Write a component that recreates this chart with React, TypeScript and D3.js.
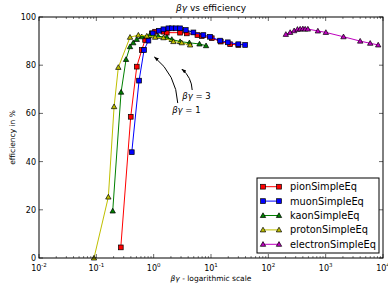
import React from "react";
import * as d3 from "d3";

// betagamma values and efficiency (%)
const pionX = [0.267, 0.398, 0.507, 0.62, 0.71, 0.93, 1.06, 1.48, 1.69, 2.89, 3.78, 5.8, 6.9, 10.3, 14.8, 21.5, 30];
const pionY = [4.4, 58.6, 79.4, 86.3, 90.5, 93.2, 93.9, 93.9, 93.5, 93.5, 93.2, 92.5, 92.1, 91.2, 89.8, 88.7, 88.4];

const muonX = [0.415, 0.556, 0.68, 0.81, 0.96, 1.24, 1.48, 1.81, 2.07, 2.43, 2.89, 3.63, 4.93, 7.36, 9.6, 14.4, 19.6, 30, 39.4];
const muonY = [43.9, 73.6, 86.3, 90.2, 93.2, 94.3, 94.9, 95.3, 95.3, 95.3, 95.3, 94.6, 93.6, 92.5, 91.8, 90.2, 89.5, 88.7, 88.4];

const kaonX = [0.193, 0.27, 0.33, 0.387, 0.44, 0.507, 0.62, 0.85, 1.2, 1.7, 2.07, 2.89, 4.2, 6.3, 8.2];
const kaonY = [19.5, 68.8, 82.4, 87.7, 89.3, 90.7, 91.8, 92.3, 92.0, 91.6, 90.7, 89.8, 89.3, 88.8, 88.1];

const protonX = [0.091, 0.162, 0.204, 0.242, 0.387, 0.541, 0.759, 1.06, 1.48, 2.21, 3.09, 4.32];
const protonY = [0, 25.3, 62.8, 79.1, 91.6, 92.5, 92.1, 91.6, 91.4, 89.8, 89.3, 88.4];

const electronX = [202, 240, 282, 322, 359, 400, 439, 489, 731, 1008, 2046, 4000, 5980, 8245];
const electronY = [92.8, 93.6, 94.3, 94.9, 95.0, 95.1, 95.0, 95.0, 94.2, 93.6, 91.8, 90.0, 89.1, 88.4];

const seriesNames = ["pionSimpleEq", "muonSimpleEq", "kaonSimpleEq", "protonSimpleEq", "electronSimpleEq"];
const seriesColors = ["#ff0000", "#0000ff", "#008000", "#bfbf00", "#bf00bf"];
const seriesMarkers = ["square", "square", "triangle", "triangle", "triangle"];

const yTicks = [0, 20, 40, 60, 80, 100];
const xTickExps = [-2, -1, 0, 1, 2, 3, 4];

// annotations: [label, arrow head x, head y, tail x, tail y, text x, text y]
const annotations: [string, number, number, number, number, number, number][] = [
  ["1", 1.03, 83.4, 2.63, 64.3, 2.1, 60],
  ["3", 3.1, 78.4, 4.7, 69.7, 3.15, 65.8],
];

const W = 388;
const H = 284;
const margin = { top: 17, right: 5, bottom: 26, left: 39 };
const font = "DejaVu Sans, sans-serif";

const Marker = ({ type, x, y, color }: { type: string; x: number; y: number; color: string }) => {
  if (type === "square") {
    return <rect x={x - 2.4} y={y - 2.4} width={4.8} height={4.8} fill={color} stroke="#000" strokeWidth={0.7} />;
  }
  const s = 2.7;
  return (
    <path
      d={`M${x},${y - s}L${x + s},${y + s * 0.75}L${x - s},${y + s * 0.75}Z`}
      fill={color}
      stroke="#000"
      strokeWidth={0.7}
    />
  );
};

const Beta = () => (
  <tspan fontStyle="italic">βγ</tspan>
);

export default function App() {
  const x = d3.scaleLog().domain([1e-2, 1e4]).range([margin.left, W - margin.right]);
  const y = d3.scaleLinear().domain([0, 100]).range([H - margin.bottom, margin.top]);
  const x0 = margin.left;
  const x1 = W - margin.right;
  const y0 = H - margin.bottom;
  const y1 = margin.top;

  const allX = [pionX, muonX, kaonX, protonX, electronX];
  const allY = [pionY, muonY, kaonY, protonY, electronY];

  const line = d3
    .line<[number, number]>()
    .x((d) => x(d[0]))
    .y((d) => y(d[1]));

  // minor ticks 2..9 per decade
  const minor: number[] = [];
  for (let e = -2; e < 4; e++) {
    for (let m = 2; m <= 9; m++) minor.push(m * Math.pow(10, e));
  }

  const legX = 257;
  const legY = 178;

  return (
    <svg width={W} height={H} style={{ position: "absolute", left: 0, top: 0, background: "#fff" }} fontFamily={font}>
      {/* series */}
      {allX.map((xs, i) => {
        const pts = xs.map((v, j) => [v, allY[i][j]] as [number, number]);
        return (
          <g key={seriesNames[i]}>
            <path d={line(pts) || ""} fill="none" stroke={seriesColors[i]} strokeWidth={1} />
            {pts.map((p, j) => (
              <Marker key={j} type={seriesMarkers[i]} x={x(p[0])} y={y(p[1])} color={seriesColors[i]} />
            ))}
          </g>
        );
      })}

      {/* annotations */}
      <defs>
        <marker id="ah" viewBox="0 0 10 10" refX="9" refY="5" markerWidth="5" markerHeight="5" orient="auto">
          <path d="M0,1.5L10,5L0,8.5Z" fill="#000" />
        </marker>
      </defs>
      {annotations.map(([lab, hx, hy, tx, ty, lx, ly]) => {
        const ax = x(tx);
        const ay = y(ty);
        const bx = x(hx);
        const by = y(hy);
        const mx = (ax + bx) / 2;
        const my = (ay + by) / 2;
        const dx = bx - ax;
        const dy = by - ay;
        const cx = mx - dy * 0.22;
        const cy = my + dx * 0.22;
        return (
          <g key={lab}>
            <path d={`M${ax},${ay}Q${cx},${cy} ${bx},${by}`} fill="none" stroke="#000" strokeWidth={1} markerEnd="url(#ah)" />
            <text x={x(lx)} y={y(ly)} fontSize={8.5} fill="#000">
              <Beta /> = {lab}
            </text>
          </g>
        );
      })}

      {/* frame */}
      <rect x={x0} y={y1} width={x1 - x0} height={y0 - y1} fill="none" stroke="#000" strokeWidth={1} />

      {/* x ticks */}
      {xTickExps.map((e) => {
        const px = x(Math.pow(10, e));
        return (
          <g key={e}>
            <line x1={px} x2={px} y1={y0} y2={y0 - 4} stroke="#000" strokeWidth={0.6} />
            <line x1={px} x2={px} y1={y1} y2={y1 + 4} stroke="#000" strokeWidth={0.6} />
            <text x={px} y={y0 + 13} textAnchor="middle" fontSize={8} fill="#000">
              10<tspan fontSize={5.5} dy={-4}>{e}</tspan>
            </text>
          </g>
        );
      })}
      {minor.map((v, i) => (
        <g key={i}>
          <line x1={x(v)} x2={x(v)} y1={y0} y2={y0 - 2} stroke="#000" strokeWidth={0.5} />
          <line x1={x(v)} x2={x(v)} y1={y1} y2={y1 + 2} stroke="#000" strokeWidth={0.5} />
        </g>
      ))}

      {/* y ticks */}
      {yTicks.map((t) => (
        <g key={t}>
          <line x1={x0} x2={x0 + 4} y1={y(t)} y2={y(t)} stroke="#000" strokeWidth={0.6} />
          <line x1={x1} x2={x1 - 4} y1={y(t)} y2={y(t)} stroke="#000" strokeWidth={0.6} />
          <text x={x0 - 3} y={y(t) + 3} textAnchor="end" fontSize={8} fill="#000">
            {t}
          </text>
        </g>
      ))}

      {/* labels */}
      <text x={(x0 + x1) / 2} y={11} textAnchor="middle" fontSize={9} fill="#000">
        <Beta /> vs efficiency
      </text>
      <text x={(x0 + x1) / 2} y={281} textAnchor="middle" fontSize={7.5} fill="#000">
        <Beta /> - logarithmic scale
      </text>
      <text transform={`translate(15,${(y0 + y1) / 2}) rotate(-90)`} textAnchor="middle" fontSize={7.5} fill="#000">
        efficiency in %
      </text>

      {/* legend */}
      <rect x={legX} y={legY} width={122} height={75} fill="#fff" stroke="#000" strokeWidth={1} />
      {seriesNames.map((n, i) => {
        const ly = legY + 8.7 + i * 14.4;
        return (
          <g key={n}>
            <line x1={legX + 6} x2={legX + 22} y1={ly} y2={ly} stroke={seriesColors[i]} strokeWidth={1} />
            <Marker type={seriesMarkers[i]} x={legX + 6} y={ly} color={seriesColors[i]} />
            <Marker type={seriesMarkers[i]} x={legX + 22} y={ly} color={seriesColors[i]} />
            <text x={legX + 33} y={ly + 3.5} fontSize={9.8} fill="#000">
              {n}
            </text>
          </g>
        );
      })}
    </svg>
  );
}
